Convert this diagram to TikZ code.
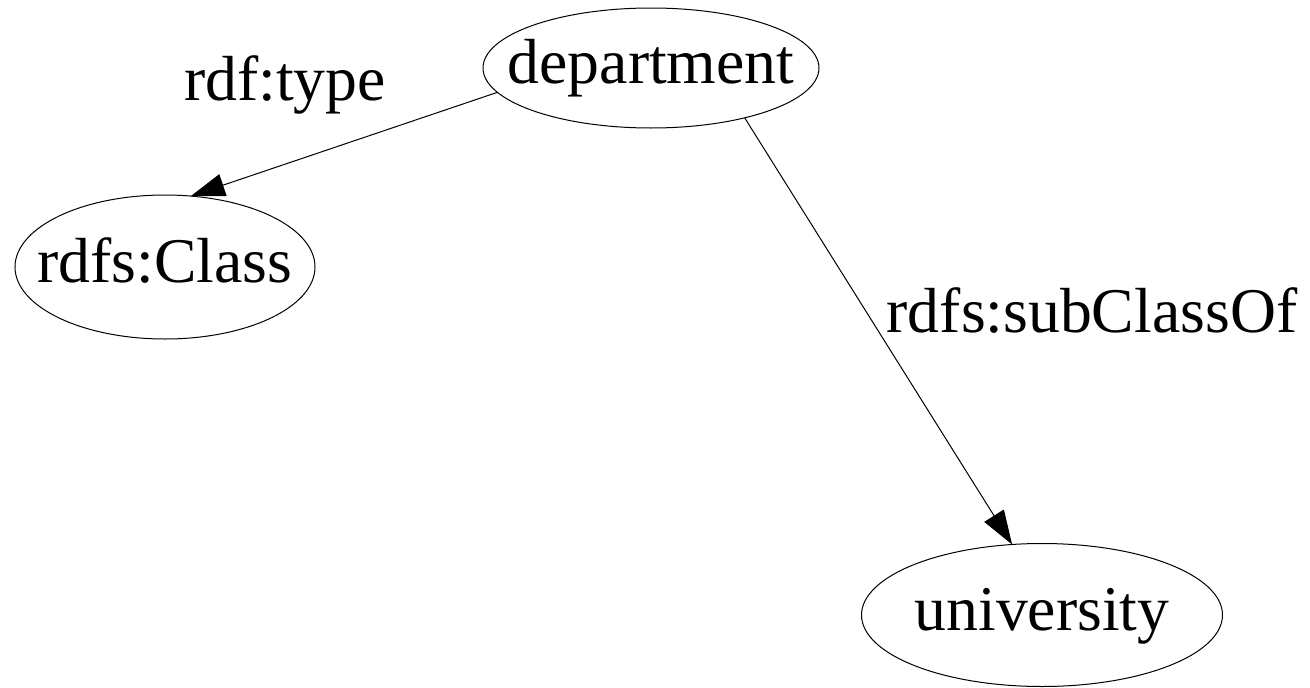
\documentclass[tikz,border=0pt]{standalone}
\usepackage{fontspec}
\setmainfont{Liberation Serif}
\usetikzlibrary{arrows.meta,shapes.geometric}
\begin{document}
\begin{tikzpicture}[x=1pt,y=-1pt,
  every node/.style={font=\fontsize{63.7}{76}\selectfont},
  vertex/.style={draw,ellipse,line width=1pt,outer sep=0pt,inner xsep=-60pt,inner ysep=-30pt,
    text height=44pt,text depth=13pt},
  edgelabel/.style={anchor=base,inner sep=0pt},
  link/.style={line width=1pt,-{Triangle[length=34pt,width=23pt]}}]
\useasboundingbox (0,0) rectangle (1310,688);
\node[vertex,minimum width=336pt,minimum height=120pt] (dep) at (651,68) {department};
\node[vertex,minimum width=300pt,minimum height=144pt] (cls) at (165,267) {rdfs:Class};
\node[vertex,minimum width=361pt,minimum height=143pt] (univ) at (1042,615) {university};
\node[edgelabel] (l1) at (285,100) {rdf:type};
\node[edgelabel] (l2) at (1092,332) {rdfs:subClassOf};
\draw[link] (dep.189.7) -- (cls.70.9);
\draw[link] (dep.332.2) -- (univ.113.7);
\end{tikzpicture}
\end{document}
